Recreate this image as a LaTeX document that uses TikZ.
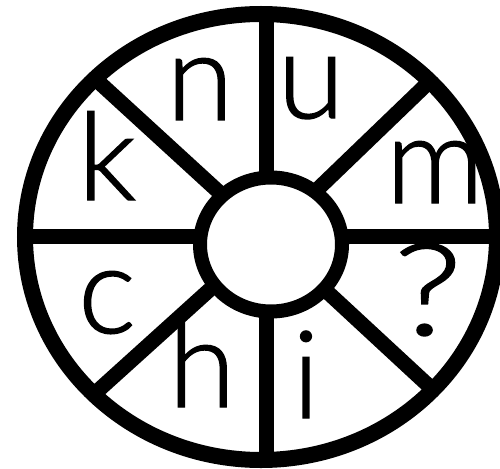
\documentclass[tikz,border=0pt]{standalone}
\usepackage{fontspec}
\setmainfont{Lato Light}[BoldFont={Lato Light},BoldFeatures={FakeBold=1.2}]
\begin{document}
\begin{tikzpicture}[x=1pt,y=-1pt,
  ring/.style={draw=black,line width=16pt},
  spoke/.style={draw=black,line width=15pt},
  letter/.style={anchor=base,inner sep=0pt,font=\fontsize{122}{130}\selectfont\bfseries}]
\useasboundingbox (0,0) rectangle (500,468);
\clip (0,0) rectangle (500,468);
\coordinate (c) at (268,237);
\coordinate (top) at (266,0);
\coordinate (bot) at (266,468);
\coordinate (lft) at (0,236.5);
\coordinate (rgt) at (500,236.5);
\coordinate (ul) at (35.6,24.2);
\coordinate (ur) at (492,21.4);
\coordinate (ll) at (35.6,447);
\coordinate (lr) at (494.8,447);
\begin{scope}
  \clip (261,237) ellipse [x radius=236, y radius=223];
  \draw[spoke] (top) -- (bot);
  \draw[spoke] (lft) -- (rgt);
  \draw[spoke] (c) -- (ul);
  \draw[spoke] (c) -- (ur);
  \draw[spoke] (c) -- (ll);
  \draw[spoke] (c) -- (lr);
\end{scope}
\draw[ring] (261,237) ellipse [x radius=236, y radius=223];
\draw[ring,line width=14pt,fill=white] (271,244.5) ellipse [x radius=71, y radius=67];
\node[letter] (n) at (200,120) {n};
\node[letter] (u) at (311,118) {u};
\node[letter] (k) at (107,200) {k};
\node[letter] (m) at (435,203) {m};
\node[letter] (cc) at (107,333) {c};
\node[letter,xscale=1.3,yscale=1.05] (q) at (428,335) {?};
\node[letter] (h) at (202,407) {h};
\node[letter] (i) at (306,418) {i};
\end{tikzpicture}
\end{document}
